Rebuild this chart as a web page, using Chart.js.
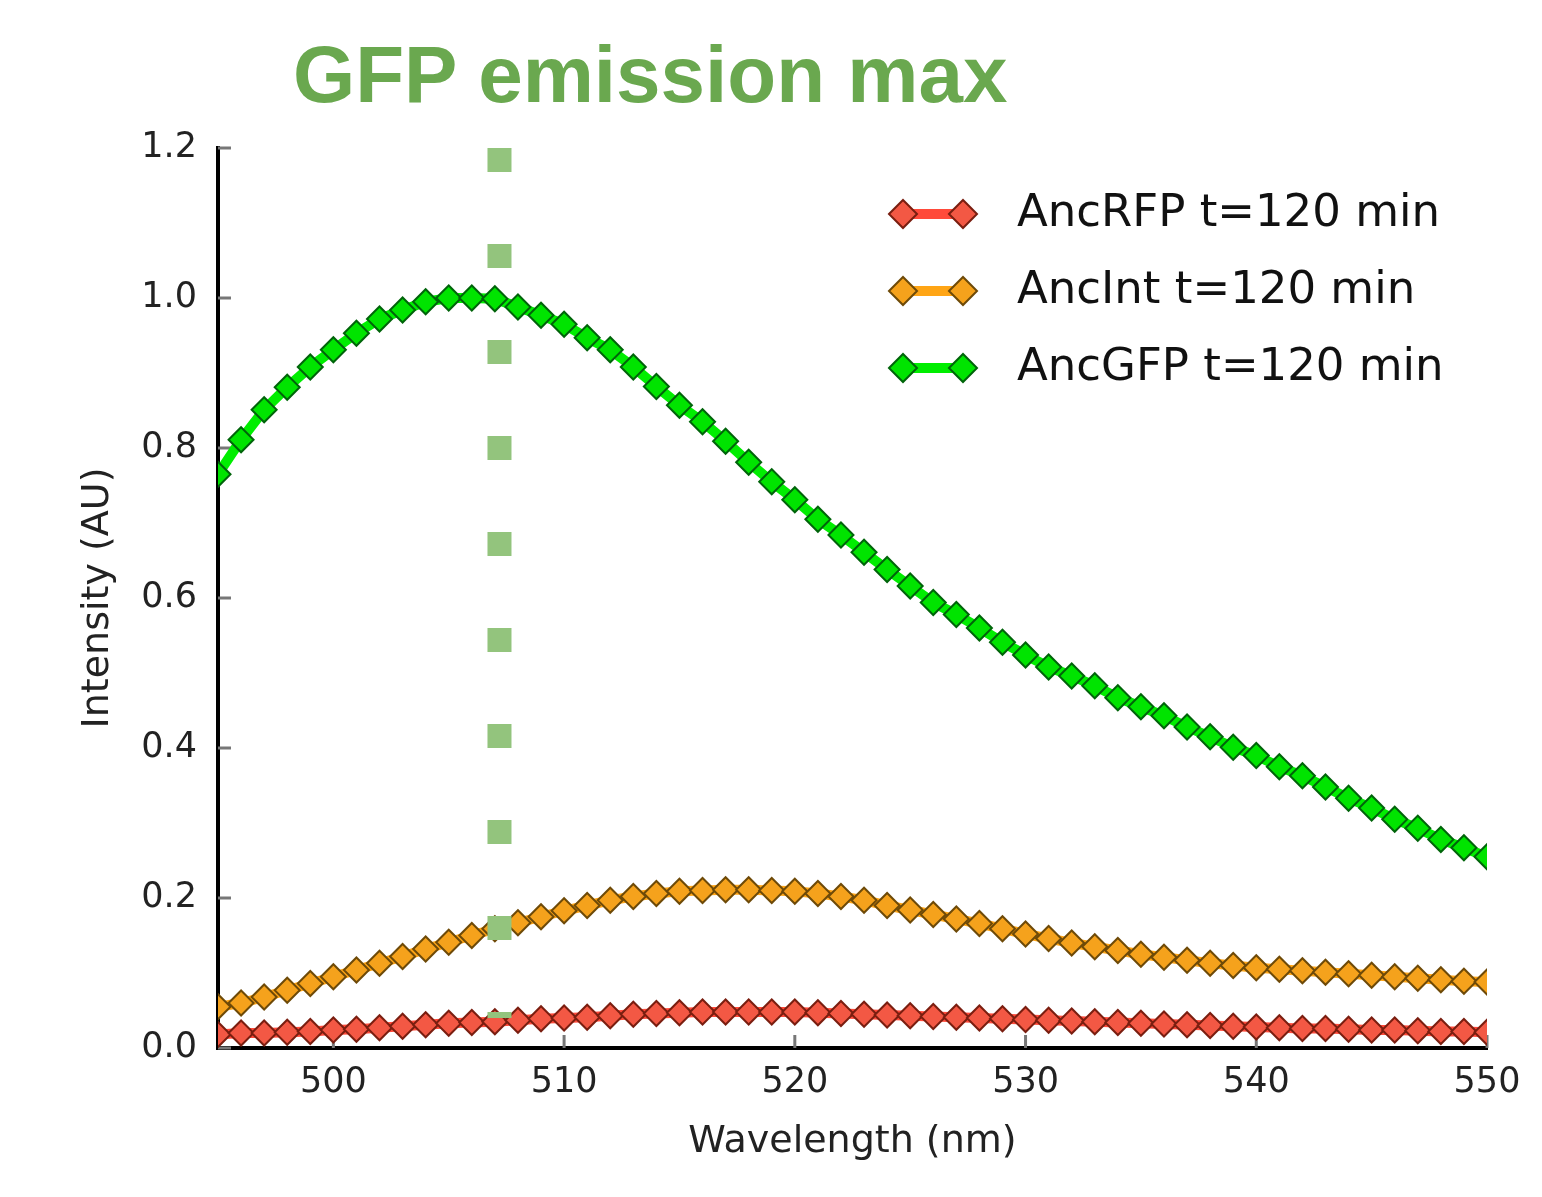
<!DOCTYPE html>
<html>
<head>
<meta charset="utf-8">
<script src="https://cdn.jsdelivr.net/npm/chart.js@4.4.1/dist/chart.umd.min.js"></script>
<style>
  html, body { margin: 0; padding: 0; background: #fff; }
  #wrap { position: relative; width: 1542px; height: 1197px; }
  #title {
    position: absolute; left: 293px; top: 35px; margin: 0;
    font: bold 80px "Liberation Sans", Arial, sans-serif; line-height: 1;
    color: #6aa84f; white-space: nowrap;
  }
  canvas { position: absolute; left: 0; top: 0; }
</style>
</head>
<body>
<div id="wrap">
  <canvas id="chart" width="1542" height="1197"></canvas>
  <div id="title">GFP emission max</div>
</div>
<script>
const wavelengths = [495, 496, 497, 498, 499, 500, 501, 502, 503, 504, 505, 506, 507, 508, 509, 510,
  511, 512, 513, 514, 515, 516, 517, 518, 519, 520, 521, 522, 523, 524, 525, 526, 527, 528, 529, 530,
  531, 532, 533, 534, 535, 536, 537, 538, 539, 540, 541, 542, 543, 544, 545, 546, 547, 548, 549, 550];

const ancRFP = [0.018, 0.020, 0.020, 0.021, 0.022, 0.024, 0.025, 0.027, 0.029, 0.031, 0.033, 0.034, 0.035, 0.037, 0.039, 0.040,
  0.041, 0.043, 0.045, 0.046, 0.047, 0.048, 0.048, 0.048, 0.048, 0.048, 0.047, 0.046, 0.045, 0.044, 0.043, 0.042, 0.041, 0.040, 0.039, 0.038,
  0.037, 0.036, 0.035, 0.034, 0.033, 0.032, 0.031, 0.030, 0.029, 0.028, 0.027, 0.026, 0.026, 0.025, 0.024, 0.024, 0.023, 0.022, 0.022, 0.021];

const ancInt = [0.055, 0.060, 0.068, 0.077, 0.086, 0.095, 0.104, 0.113, 0.122, 0.132, 0.141, 0.150, 0.159, 0.167, 0.175, 0.183,
  0.190, 0.197, 0.202, 0.206, 0.209, 0.210, 0.211, 0.211, 0.210, 0.209, 0.206, 0.202, 0.197, 0.190, 0.184, 0.178, 0.172, 0.166, 0.159, 0.152,
  0.146, 0.140, 0.135, 0.130, 0.125, 0.121, 0.117, 0.113, 0.110, 0.107, 0.105, 0.103, 0.101, 0.099, 0.097, 0.095, 0.093, 0.091, 0.089, 0.088];

const ancGFP = [0.765, 0.811, 0.851, 0.881, 0.908, 0.931, 0.953, 0.972, 0.984, 0.995, 1.000, 1.000, 0.999, 0.988, 0.977, 0.965,
  0.947, 0.931, 0.908, 0.882, 0.857, 0.835, 0.809, 0.781, 0.755, 0.731, 0.705, 0.684, 0.661, 0.638, 0.616, 0.594, 0.578, 0.560, 0.541, 0.524,
  0.508, 0.496, 0.483, 0.467, 0.455, 0.443, 0.428, 0.415, 0.401, 0.390, 0.375, 0.363, 0.348, 0.333, 0.320, 0.305, 0.293, 0.278, 0.267, 0.255];

const seriesLabels = ["AncRFP t=120 min", "AncInt t=120 min", "AncGFP t=120 min"];
const xTicks = [500, 510, 520, 530, 540, 550];
const yTicks = [0.0, 0.2, 0.4, 0.6, 0.8, 1.0, 1.2];

// marker for the GFP emission maximum
const emissionMax = 507.2;
const markerRange = [1.2, 0.04];

function toPoints(values) {
  return wavelengths.map((w, i) => ({ x: w, y: values[i] }));
}

function series(label, values, line, fill, edge) {
  return {
    label: label,
    data: toPoints(values),
    borderColor: line,
    borderWidth: 10,
    pointStyle: "rectRot",
    pointRadius: 12.5,
    pointBackgroundColor: fill,
    pointBorderColor: edge,
    pointBorderWidth: 2,
    tension: 0,
    clip: 0,
    order: 1
  };
}

function diamond(ctx, x, y, r) {
  ctx.beginPath();
  ctx.moveTo(x - r, y);
  ctx.lineTo(x, y - r);
  ctx.lineTo(x + r, y);
  ctx.lineTo(x, y + r);
  ctx.closePath();
  ctx.fill();
  ctx.stroke();
}

// matplotlib style legend: line with two diamonds
const legendPlugin = {
  id: "mplLegend",
  afterDraw(chart) {
    const ctx = chart.ctx;
    const rows = chart.data.datasets.filter(d => seriesLabels.includes(d.label));
    ctx.save();
    rows.forEach((d, i) => {
      const y = 214 + i * 77;
      ctx.strokeStyle = d.borderColor;
      ctx.lineWidth = 10;
      ctx.beginPath();
      ctx.moveTo(903, y);
      ctx.lineTo(963, y);
      ctx.stroke();
      ctx.fillStyle = d.pointBackgroundColor;
      ctx.strokeStyle = d.pointBorderColor;
      ctx.lineWidth = 2;
      diamond(ctx, 903, y, 14);
      diamond(ctx, 963, y, 14);
      ctx.fillStyle = "#111";
      ctx.font = "45px 'DejaVu Sans'";
      ctx.textBaseline = "middle";
      ctx.textAlign = "left";
      ctx.fillText(d.label, 1017, y);
    });
    ctx.restore();
  }
};

// small inward tick marks
const innerTicks = {
  id: "innerTicks",
  beforeDatasetsDraw(chart) {
    const { ctx, chartArea, scales } = chart;
    ctx.save();
    ctx.strokeStyle = "#777";
    ctx.lineWidth = 3;
    scales.x.ticks.forEach(t => {
      const px = scales.x.getPixelForValue(t.value);
      ctx.beginPath();
      ctx.moveTo(px, chartArea.bottom);
      ctx.lineTo(px, chartArea.bottom - 13);
      ctx.stroke();
    });
    scales.y.ticks.forEach(t => {
      const py = scales.y.getPixelForValue(t.value);
      ctx.beginPath();
      ctx.moveTo(chartArea.left, py);
      ctx.lineTo(chartArea.left + 13, py);
      ctx.stroke();
    });
    ctx.restore();
  }
};

const ctx = document.getElementById("chart").getContext("2d");
new Chart(ctx, {
  type: "line",
  data: {
    datasets: [
      {
        label: "GFP emission max",
        data: [{ x: emissionMax, y: markerRange[0] }, { x: emissionMax, y: markerRange[1] }],
        borderColor: "#93c47d",
        borderWidth: 24,
        borderDash: [24, 72],
        borderCapStyle: "butt",
        pointRadius: 0,
        clip: 0,
        order: 0
      },
      series(seriesLabels[0], ancRFP, "#ff4a3a", "#f35844", "#7a1e10"),
      series(seriesLabels[1], ancInt, "#ffa515", "#f5a21c", "#6e4a08"),
      series(seriesLabels[2], ancGFP, "#00ee00", "#00e400", "#00640a")
    ]
  },
  options: {
    responsive: false,
    animation: false,
    devicePixelRatio: 1,
    layout: { padding: { left: 0, top: 148, right: 55, bottom: 0 } },
    plugins: {
      legend: { display: false },
      tooltip: { enabled: false },
      title: { display: false }
    },
    scales: {
      x: {
        type: "linear",
        min: 495,
        max: 550,
        afterFit: s => { s.height = 149; },
        afterBuildTicks: axis => { axis.ticks = xTicks.map(v => ({ value: v })); },
        grid: { display: true, drawOnChartArea: false, drawTicks: false },
        border: { display: true, color: "#000", width: 4 },
        ticks: {
          color: "#222",
          padding: 14,
          maxRotation: 0,
          font: { family: "'DejaVu Sans'", size: 35 },
          callback: v => String(v)
        },
        title: {
          display: true,
          text: "Wavelength (nm)",
          color: "#222",
          padding: { top: 0, bottom: 32 },
          font: { family: "'DejaVu Sans'", size: 38 }
        }
      },
      y: {
        min: 0,
        max: 1.2,
        afterFit: s => { s.width = 218; },
        afterBuildTicks: axis => { axis.ticks = yTicks.map(v => ({ value: v })); },
        grid: { display: true, drawOnChartArea: false, drawTicks: false },
        border: { display: true, color: "#000", width: 4 },
        ticks: {
          color: "#222",
          padding: 21,
          font: { family: "'DejaVu Sans'", size: 35 },
          callback: v => v.toFixed(1)
        },
        title: {
          display: true,
          text: "Intensity (AU)",
          color: "#222",
          padding: { top: 75, bottom: 0 },
          font: { family: "'DejaVu Sans'", size: 38 }
        }
      }
    }
  },
  plugins: [innerTicks, legendPlugin]
});
</script>
</body>
</html>
